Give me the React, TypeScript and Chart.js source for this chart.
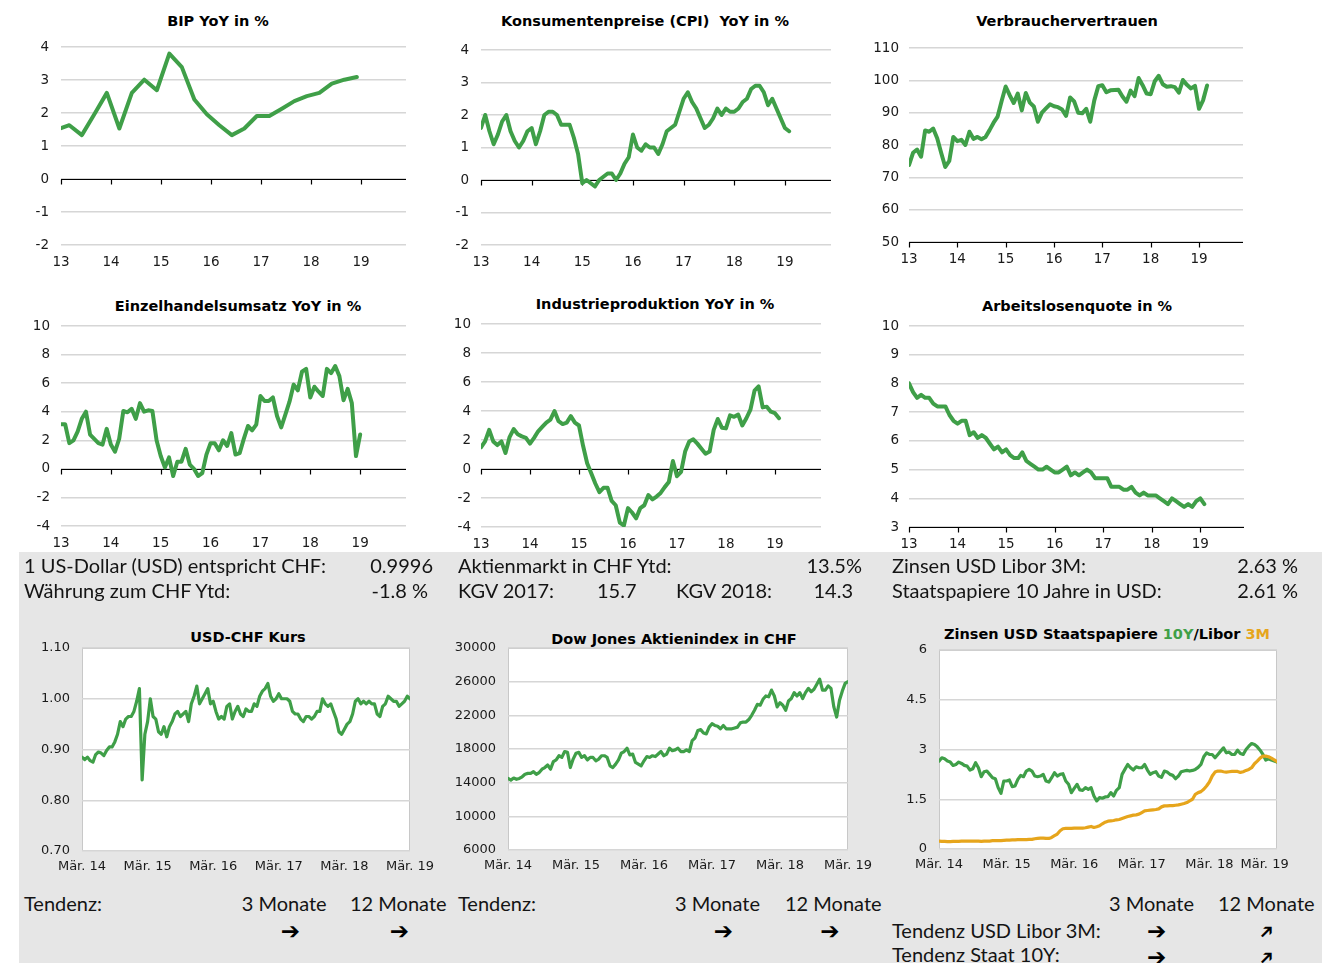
import React, { useEffect, useRef } from "react";
import { Chart, registerables } from "chart.js";

Chart.register(...registerables);

// ---------------- colours & fonts ----------------
const GREEN = "#3f9f48";
const ORANGE = "#e6a51c";
const GRID = "#d6d6d6";
const AXIS_FONT = "'DejaVu Sans', 'Liberation Sans', sans-serif";
const INFO_FONT = "Lato, 'Open Sans', sans-serif";

// ---------------- data: top charts (x = calendar year) ----------------
const YEAR_TICKS = [2013, 2014, 2015, 2016, 2017, 2018, 2019];

// BIP YoY in %, quarterly, first point Dec 2012
const BIP_VALUES = [1.5, 1.63, 1.33, 1.96, 2.61, 1.53, 2.61, 3.01, 2.69, 3.8, 3.39, 2.41, 1.96, 1.63, 1.33, 1.53, 1.91, 1.91, 2.13, 2.36, 2.51, 2.61, 2.89, 3.01, 3.09];

// CPI YoY in %, monthly from Jan 2013
const CPI_VALUES = [
  1.6, 2.0, 1.5, 1.1, 1.4, 1.8, 2.0, 1.5, 1.2, 1.0, 1.2, 1.5,
  1.6, 1.1, 1.5, 2.0, 2.1, 2.1, 2.0, 1.7, 1.7, 1.7, 1.3, 0.8,
  -0.1, 0.0, -0.1, -0.2, 0.0, 0.1, 0.2, 0.2, 0.0, 0.2, 0.5, 0.7,
  1.4, 1.0, 0.9, 1.1, 1.0, 1.0, 0.8, 1.1, 1.5, 1.6, 1.7, 2.1,
  2.5, 2.7, 2.4, 2.2, 1.9, 1.6, 1.7, 1.9, 2.2, 2.0, 2.2, 2.1,
  2.1, 2.2, 2.4, 2.5, 2.8, 2.9, 2.9, 2.7, 2.3, 2.5, 2.2, 1.9,
  1.6, 1.5,
];

// Verbrauchervertrauen, monthly from Jan 2013
const CONF_VALUES = [
  73.8, 77.6, 78.6, 76.4, 84.5, 84.1, 85.1, 82.1, 77.5, 73.2, 75.1, 82.5,
  81.2, 81.6, 80.0, 84.1, 81.9, 82.5, 81.8, 82.5, 84.6, 86.9, 88.8, 93.6,
  98.1, 95.4, 93.0, 95.9, 90.7, 96.1, 93.1, 91.9, 87.2, 90.0, 91.3, 92.6,
  92.0, 91.7, 91.0, 89.0, 94.7, 93.5, 90.0, 89.8, 91.2, 87.2, 93.8, 98.2,
  98.5, 96.3, 96.9, 97.0, 97.1, 95.0, 93.4, 96.8, 95.1, 100.7, 98.5, 95.9,
  95.7, 99.7, 101.4, 98.8, 98.0, 98.2, 97.9, 96.2, 100.1, 98.6, 97.5, 98.3,
  91.2, 93.8, 98.4,
];

// Einzelhandelsumsatz YoY in %, monthly from Jan 2013
const RETAIL_VALUES = [
  3.12, 3.12, 1.8, 2.0, 2.6, 3.5, 4.0, 2.4, 2.1, 1.8, 1.7, 2.8,
  1.7, 1.2, 2.1, 4.05, 3.96, 4.2, 3.5, 4.6, 4.0, 4.1, 4.05, 2.0,
  0.9, 0.1, 0.8, -0.5, 0.5, 0.5, 1.4, 0.3, 0.0, -0.5, -0.3, 1.0,
  1.8, 1.8, 1.3, 2.0, 1.6, 2.5, 1.0, 1.1, 2.1, 3.0, 2.7, 3.1,
  5.1, 4.75, 4.75, 5.0, 3.7, 2.9, 3.8, 4.7, 5.9, 5.5, 6.8, 7.0,
  5.0, 5.75, 5.4, 5.1, 7.0, 6.7, 7.2, 6.5, 4.8, 5.6, 4.6, 0.9,
  2.4,
];

// Industrieproduktion YoY in %, monthly from Jan 2013
const INDPROD_VALUES = [
  1.5, 1.9, 2.7, 1.9, 1.65, 1.9, 1.1, 2.2, 2.75, 2.4, 2.25, 2.15,
  1.75, 2.15, 2.6, 2.9, 3.2, 3.4, 4.0, 3.3, 3.1, 3.2, 3.65, 3.2,
  3.0, 1.6, 0.4, -0.3, -1.0, -1.6, -1.3, -1.3, -2.2, -2.5, -3.7, -3.9,
  -2.7, -3.0, -3.4, -2.7, -2.5, -1.8, -2.1, -1.9, -1.65, -1.25, -0.9, 0.55,
  -0.5, -0.2, 1.2, 1.9, 2.05, 1.75, 1.4, 1.05, 1.2, 2.7, 3.45, 2.85,
  2.8, 3.7, 3.6, 3.75, 3.0, 3.5, 4.1, 5.4, 5.7, 4.25, 4.3, 3.95,
  3.85, 3.5,
];

// Arbeitslosenquote in %, monthly from Jan 2013
const UNEMP_VALUES = [
  8.0, 7.7, 7.5, 7.6, 7.5, 7.5, 7.3, 7.2, 7.2, 7.2, 6.9, 6.7,
  6.6, 6.7, 6.7, 6.2, 6.3, 6.1, 6.2, 6.1, 5.9, 5.7, 5.8, 5.6,
  5.7, 5.5, 5.4, 5.4, 5.6, 5.3, 5.2, 5.1, 5.0, 5.0, 5.1, 5.0,
  4.9, 4.9, 5.0, 5.1, 4.8, 4.9, 4.8, 4.9, 5.0, 4.9, 4.7, 4.7,
  4.7, 4.7, 4.4, 4.4, 4.4, 4.3, 4.3, 4.4, 4.2, 4.1, 4.2, 4.1,
  4.1, 4.1, 4.0, 3.9, 3.8, 4.0, 3.9, 3.8, 3.7, 3.8, 3.7, 3.9,
  4.0, 3.8,
];

// ---------------- data: bottom charts (half-monthly from Mar 2014) ----------------
const MAR_TICKS = [2014, 2015, 2016, 2017, 2018, 2019].map((y) => y + 2 / 12);

const USDCHF_VALUES = [
  0.885, 0.88, 0.885, 0.878, 0.875, 0.89, 0.895, 0.893, 0.888, 0.898, 0.905, 0.905, 0.915, 0.93, 0.955, 0.945, 0.96, 0.965, 0.965, 0.975,
  0.995, 1.02, 0.84, 0.93, 0.955, 1.0, 0.965, 0.96, 0.935, 0.93, 0.945, 0.925, 0.945, 0.955, 0.97, 0.975, 0.965, 0.97, 0.975, 0.955, 0.99, 1.005, 1.025, 0.99,
  1.0, 1.01, 1.02, 0.99, 0.995, 0.975, 0.96, 0.965, 0.96, 0.985, 0.99, 0.96, 0.975, 0.985, 0.97, 0.965, 0.98, 0.975, 0.975, 0.99, 0.985, 1.005, 1.015, 1.02,
  1.03, 1.005, 0.995, 1.0, 1.01, 1.0, 1.0, 1.0, 0.995, 0.975, 0.97, 0.97, 0.96, 0.955, 0.965, 0.965, 0.96, 0.965, 0.975, 0.975, 1.0, 0.99, 0.985, 0.99,
  0.975, 0.96, 0.935, 0.93, 0.94, 0.95, 0.955, 0.97, 0.995, 1.0, 0.99, 0.995, 0.99, 0.995, 0.99, 0.99, 0.97, 0.965, 0.985, 0.99, 1.005, 1.0, 0.995, 0.995,
  0.985, 0.99, 0.995, 1.005, 1.0,
];

const DOW_CHF_VALUES = [
  14500, 14300, 14550, 14400, 14500, 14700, 15000, 15100, 15100, 15300, 15000, 15200, 15600, 15800, 16100, 15600, 16500, 16700, 17200, 17000,
  17700, 17600, 15800, 16800, 17500, 17600, 17000, 17200, 16700, 17000, 17000, 16600, 16800, 17200, 17200, 17000, 16000, 15800, 16200, 16700, 17500, 17700, 18100, 17300,
  17400, 16400, 16200, 16000, 16600, 17100, 17000, 17200, 17100, 17400, 17700, 17200, 17400, 18100, 17800, 17900, 18100, 17700, 17700, 17900, 17700, 19000, 19300, 20200,
  20300, 19900, 19800, 20600, 21000, 20800, 20700, 20400, 20800, 20400, 20400, 20400, 20500, 20600, 21100, 21200, 21200, 21500, 22000, 22600, 23300, 23200, 23900, 24300,
  24200, 25000, 24300, 23000, 23500, 23200, 22600, 23700, 24000, 24700, 24300, 24700, 24000, 24700, 25200, 24800, 25100, 25700, 26300, 25000, 25000, 25500, 25200, 23000,
  21800, 23800, 24900, 25800, 26000,
];

const TREASURY_10Y_VALUES = [
  2.65, 2.75, 2.72, 2.65, 2.62, 2.52, 2.55, 2.62, 2.58, 2.52, 2.5, 2.38, 2.42, 2.6, 2.45, 2.18, 2.33, 2.35, 2.25, 2.15,
  2.12, 1.85, 1.68, 2.05, 2.05, 2.08, 1.88, 1.9, 2.1, 2.22, 2.18, 2.35, 2.4, 2.35, 2.2, 2.18, 2.2, 2.25, 2.05, 2.02, 2.15, 2.3, 2.2, 2.25,
  2.27, 2.05, 1.95, 1.7, 1.83, 1.95, 1.78, 1.77, 1.85, 1.8, 1.85, 1.6, 1.45, 1.55, 1.53, 1.57, 1.58, 1.7, 1.6, 1.77, 1.85, 2.25, 2.4, 2.55,
  2.45, 2.38, 2.48, 2.45, 2.45, 2.55, 2.38, 2.25, 2.3, 2.33, 2.2, 2.16, 2.35, 2.32, 2.25, 2.22, 2.12, 2.2, 2.33, 2.35, 2.37, 2.35, 2.37, 2.4,
  2.46, 2.55, 2.78, 2.9, 2.85, 2.85, 2.75, 2.85, 2.95, 3.05, 2.9, 2.92, 2.85, 2.85, 2.98, 2.88, 2.85, 3.0, 3.1, 3.18, 3.15, 3.08, 2.98, 2.85,
  2.68, 2.72, 2.68, 2.65, 2.62,
];

const LIBOR_3M_VALUES = [
  0.235, 0.23, 0.23, 0.225, 0.225, 0.23, 0.23, 0.23, 0.235, 0.235, 0.24, 0.235, 0.235, 0.235, 0.235, 0.23, 0.235, 0.235, 0.24, 0.25,
  0.255, 0.255, 0.255, 0.26, 0.265, 0.27, 0.275, 0.275, 0.28, 0.28, 0.285, 0.285, 0.29, 0.29, 0.31, 0.32, 0.33, 0.33, 0.32, 0.32, 0.35, 0.4, 0.45, 0.55,
  0.61, 0.62, 0.62, 0.62, 0.63, 0.63, 0.63, 0.63, 0.64, 0.66, 0.68, 0.65, 0.67, 0.7, 0.76, 0.81, 0.84, 0.85, 0.86, 0.88, 0.89, 0.92, 0.95, 0.98,
  1.0, 1.02, 1.03, 1.05, 1.1, 1.15, 1.16, 1.17, 1.18, 1.19, 1.21, 1.27, 1.3, 1.3, 1.31, 1.31, 1.32, 1.33, 1.35, 1.37, 1.4, 1.45, 1.5, 1.65,
  1.7, 1.73, 1.8, 1.9, 2.02, 2.2, 2.32, 2.35, 2.35, 2.33, 2.32, 2.33, 2.34, 2.34, 2.34, 2.31, 2.33, 2.37, 2.4, 2.45, 2.57, 2.65, 2.74, 2.8,
  2.8, 2.78, 2.74, 2.69, 2.63,
];

// calendar positions (decimal years) of a regular date series
function dates(year: number, month: number, n: number, stepMonths: number): number[] {
  const out: number[] = [];
  for (let i = 0; i < n; i++) out.push(year + (month - 1) / 12 + (i * stepMonths) / 12);
  return out;
}

// ---------------- chart component ----------------
const ML = 70, MT = 30, MR = 50, MB = 36;

type Area = { l: number; t: number; r: number; b: number };
type Series = { x: number[]; y: number[]; color: string; width: number };
type Cfg = {
  area: Area;
  series: Series[];
  xMin: number; xMax: number; xTicks: number[]; xFmt: (v: number, i: number) => string;
  yMin: number; yMax: number; yTicks: number[]; yFmt: (v: number) => string;
  base?: number;
  panel?: boolean;
  yPad: number; xPad: number;
  fontSize: number;
};

function MiniChart({ cfg }: { cfg: Cfg }) {
  const ref = useRef<HTMLCanvasElement>(null);
  const { area } = cfg;
  const w = area.r - area.l + ML + MR;
  const h = area.b - area.t + MT + MB;

  useEffect(() => {
    const panelPlugin = {
      id: "panel",
      beforeDraw(chart: any) {
        if (!cfg.panel) return;
        const { ctx, chartArea: ca } = chart;
        ctx.save();
        ctx.fillStyle = "#ffffff";
        ctx.fillRect(ca.left, ca.top, ca.right - ca.left, ca.bottom - ca.top);
        ctx.strokeStyle = "#c8c8c8";
        ctx.lineWidth = 1;
        ctx.strokeRect(ca.left + 0.5, ca.top + 0.5, ca.right - ca.left - 1, ca.bottom - ca.top - 1);
        ctx.restore();
      },
    };
    const basePlugin = {
      id: "baseAxis",
      beforeDatasetsDraw(chart: any) {
        if (cfg.base === undefined) return;
        const { ctx, chartArea: ca } = chart;
        const xs = chart.scales.x, ys = chart.scales.y;
        const py = Math.round(ys.getPixelForValue(cfg.base)) + 0.5;
        ctx.save();
        ctx.strokeStyle = "#000";
        ctx.lineWidth = 1.2;
        ctx.beginPath();
        ctx.moveTo(ca.left, py);
        ctx.lineTo(ca.right, py);
        for (const t of cfg.xTicks) {
          const px = Math.round(xs.getPixelForValue(t)) + 0.5;
          ctx.moveTo(px, py);
          ctx.lineTo(px, py + 5);
        }
        ctx.stroke();
        ctx.restore();
      },
    };

    const chart = new Chart(ref.current as HTMLCanvasElement, {
      type: "line",
      data: {
        datasets: cfg.series.map((s) => ({
          data: s.x.map((x, i) => ({ x, y: s.y[i] })),
          borderColor: s.color,
          borderWidth: s.width,
          pointRadius: 0,
          fill: false,
          tension: 0,
          borderJoinStyle: "round" as const,
          borderCapStyle: "round" as const,
        })),
      },
      options: {
        responsive: false,
        maintainAspectRatio: false,
        animation: false,
        events: [],
        layout: { padding: { left: 0, top: MT, right: MR, bottom: 0 } },
        plugins: { legend: { display: false }, tooltip: { enabled: false }, title: { display: false } },
        scales: {
          x: {
            type: "linear",
            min: cfg.xMin,
            max: cfg.xMax,
            afterFit: (s: any) => { s.height = MB; },
            afterBuildTicks: (s: any) => { s.ticks = cfg.xTicks.map((v) => ({ value: v })); },
            grid: { display: false, drawTicks: false },
            border: { display: false },
            ticks: {
              autoSkip: false,
              maxRotation: 0,
              padding: cfg.xPad,
              color: "#1a1a1a",
              font: { family: AXIS_FONT, size: cfg.fontSize },
              callback: (v: any, i: number) => cfg.xFmt(Number(v), i),
            },
          },
          y: {
            min: cfg.yMin,
            max: cfg.yMax,
            afterFit: (s: any) => { s.width = ML; },
            afterBuildTicks: (s: any) => { s.ticks = cfg.yTicks.map((v) => ({ value: v })); },
            grid: { color: GRID, lineWidth: 1.4, drawTicks: false },
            border: { display: false },
            ticks: {
              padding: cfg.yPad,
              color: "#1a1a1a",
              font: { family: AXIS_FONT, size: cfg.fontSize },
              callback: (v: any) => cfg.yFmt(Number(v)),
            },
          },
        },
      } as any,
      plugins: [panelPlugin, basePlugin],
    });
    return () => chart.destroy();
  }, []);

  return (
    <canvas
      ref={ref}
      width={w}
      height={h}
      style={{ position: "absolute", left: area.l - ML, top: area.t - MT, width: w, height: h }}
    />
  );
}

// ---------------- chart configs ----------------
const yearFmt = (v: number) => String(Math.round(v) % 100);
const marFmt = (v: number) => "Mär. " + String(Math.round(v - 2 / 12) % 100);
// last label of the rate chart sits a little inside the frame, as in the original
const marFmtInset = (v: number, i: number) => marFmt(v) + (i === MAR_TICKS.length - 1 ? "\u00a0\u00a0\u00a0\u00a0\u00a0\u00a0" : "");
const range = (a: number, b: number, s: number) => {
  const o: number[] = [];
  for (let v = a; v <= b + 1e-9; v += s) o.push(Math.round(v * 1000) / 1000);
  return o;
};

const topCommon = { xMin: 2013, xTicks: YEAR_TICKS, xFmt: yearFmt, fontSize: 13.5, xPad: 9 };
const LW_TOP = 4;
const LW_BOTTOM = 3.2;

const CHARTS: Cfg[] = [
  {
    ...topCommon, area: { l: 61, t: 47, r: 406, b: 245 }, xMax: 2019.9,
    series: [{ x: dates(2012, 12, BIP_VALUES.length, 3), y: BIP_VALUES, color: GREEN, width: LW_TOP }],
    yMin: -2, yMax: 4, yTicks: range(-2, 4, 1), yFmt: (v) => String(v), base: 0, yPad: 12,
  },
  {
    ...topCommon, area: { l: 481, t: 50, r: 831, b: 245 }, xMax: 2019.91,
    series: [{ x: dates(2013, 1, CPI_VALUES.length, 1), y: CPI_VALUES, color: GREEN, width: LW_TOP }],
    yMin: -2, yMax: 4, yTicks: range(-2, 4, 1), yFmt: (v) => String(v), base: 0, yPad: 12,
  },
  {
    ...topCommon, area: { l: 909, t: 48, r: 1243, b: 242 }, xMax: 2019.91,
    series: [{ x: dates(2013, 1, CONF_VALUES.length, 1), y: CONF_VALUES, color: GREEN, width: LW_TOP }],
    yMin: 50, yMax: 110, yTicks: range(50, 110, 10), yFmt: (v) => String(v), base: 50, yPad: 10,
  },
  {
    ...topCommon, area: { l: 61, t: 326, r: 406, b: 526 }, xMax: 2019.92,
    series: [{ x: dates(2013, 1, RETAIL_VALUES.length, 1), y: RETAIL_VALUES, color: GREEN, width: LW_TOP }],
    yMin: -4, yMax: 10, yTicks: range(-4, 10, 2), yFmt: (v) => String(v), base: 0, yPad: 11,
  },
  {
    ...topCommon, area: { l: 481, t: 324, r: 821, b: 527 }, xMax: 2019.94,
    series: [{ x: dates(2013, 1, INDPROD_VALUES.length, 1), y: INDPROD_VALUES, color: GREEN, width: LW_TOP }],
    yMin: -4, yMax: 10, yTicks: range(-4, 10, 2), yFmt: (v) => String(v), base: 0, yPad: 10,
  },
  {
    ...topCommon, area: { l: 909, t: 326, r: 1244, b: 527 }, xMax: 2019.9,
    series: [{ x: dates(2013, 1, UNEMP_VALUES.length, 1), y: UNEMP_VALUES, color: GREEN, width: LW_TOP }],
    yMin: 3, yMax: 10, yTicks: range(3, 10, 1), yFmt: (v) => String(v), base: 3, yPad: 10,
  },
  {
    area: { l: 82, t: 648, r: 410, b: 851 }, xMin: 2014 + 2 / 12, xMax: 2019 + 2 / 12, xTicks: MAR_TICKS, xFmt: marFmt,
    series: [{ x: dates(2014, 3, USDCHF_VALUES.length, 0.5), y: USDCHF_VALUES, color: GREEN, width: LW_BOTTOM }],
    yMin: 0.7, yMax: 1.1, yTicks: range(0.7, 1.1, 0.1), yFmt: (v) => v.toFixed(2), panel: true, yPad: 12, xPad: 8, fontSize: 13,
  },
  {
    area: { l: 508, t: 648, r: 848, b: 850 }, xMin: 2014 + 2 / 12, xMax: 2019 + 2 / 12, xTicks: MAR_TICKS, xFmt: marFmt,
    series: [{ x: dates(2014, 3, DOW_CHF_VALUES.length, 0.5), y: DOW_CHF_VALUES, color: GREEN, width: LW_BOTTOM }],
    yMin: 6000, yMax: 30000, yTicks: range(6000, 30000, 4000), yFmt: (v) => String(v), panel: true, yPad: 12, xPad: 8, fontSize: 13,
  },
  {
    area: { l: 939, t: 650, r: 1277, b: 849 }, xMin: 2014 + 2 / 12, xMax: 2019 + 2 / 12, xTicks: MAR_TICKS, xFmt: marFmtInset,
    series: [
      { x: dates(2014, 3, LIBOR_3M_VALUES.length, 0.5), y: LIBOR_3M_VALUES, color: ORANGE, width: LW_BOTTOM },
      { x: dates(2014, 3, TREASURY_10Y_VALUES.length, 0.5), y: TREASURY_10Y_VALUES, color: GREEN, width: LW_BOTTOM },
    ],
    yMin: 0, yMax: 6, yTicks: range(0, 6, 1.5), yFmt: (v) => String(v), panel: true, yPad: 12, xPad: 8, fontSize: 13,
  },
];

// ---------------- text helpers ----------------
function Title({ cx, cy, children }: { cx: number; cy: number; children: React.ReactNode }) {
  const size = 14.5;
  return (
    <div
      style={{
        position: "absolute", left: cx - 300, width: 600, top: cy - 0.48 * size, textAlign: "center",
        font: `bold ${size}px ${AXIS_FONT}`, lineHeight: `${size}px`, whiteSpace: "pre", color: "#000",
      }}
    >
      {children}
    </div>
  );
}

const INFO_SIZE = 20;
function Info({ x, right, base, children, size = INFO_SIZE, family = INFO_FONT }: { x?: number; right?: number; base: number; children: React.ReactNode; size?: number; family?: string }) {
  const style: React.CSSProperties = {
    position: "absolute", top: base - 0.887 * size, font: `${size}px ${family}`, lineHeight: `${size}px`,
    whiteSpace: "pre", color: "#141414",
  };
  if (x !== undefined) style.left = x;
  if (right !== undefined) style.right = 1326 - right;
  return <div style={style}>{children}</div>;
}

// heavy arrow glyph; "up" turns it to point north-east
function Arrow({ cx, cy, up }: { cx: number; cy: number; up?: boolean }) {
  return (
    <div
      style={{
        position: "absolute", left: cx - 20, width: 40, top: cy - 12, height: 24, textAlign: "center",
        font: `bold ${up ? 19 : 23}px 'DejaVu Sans', sans-serif`, lineHeight: "24px", color: "#000",
      }}
    >
      <span style={{ display: "inline-block", transform: up ? "rotate(-45deg)" : "none" }}>➔</span>
    </div>
  );
}

export default function App() {
  return (
    <div style={{ position: "absolute", left: 0, top: 0, width: 1326, height: 963, overflow: "hidden", background: "#fff" }}>
      <div style={{ position: "absolute", left: 19, top: 552, width: 1303, height: 420, background: "#e6e6e6" }} />

      <Title cx={218} cy={21}>BIP YoY in %</Title>
      <Title cx={645} cy={21}>Konsumentenpreise (CPI)  YoY in %</Title>
      <Title cx={1067} cy={21}>Verbrauchervertrauen</Title>
      <Title cx={238} cy={306}>Einzelhandelsumsatz YoY in %</Title>
      <Title cx={655} cy={304}>Industrieproduktion YoY in %</Title>
      <Title cx={1077} cy={306}>Arbeitslosenquote in %</Title>
      <Title cx={248} cy={637}>USD-CHF Kurs</Title>
      <Title cx={674} cy={639}>Dow Jones Aktienindex in CHF</Title>
      <Title cx={1107} cy={634}>
        Zinsen USD Staatspapiere <span style={{ color: GREEN }}>10Y</span>/Libor <span style={{ color: ORANGE }}>3M</span>
      </Title>

      {CHARTS.map((c, i) => (
        <MiniChart key={i} cfg={c} />
      ))}

      {/* info block */}
      <Info x={24} base={573}>1 US-Dollar (USD) entspricht CHF:</Info>
      <Info right={433} base={573}>0.9996</Info>
      <Info x={24} base={597.5}>Währung zum CHF Ytd:</Info>
      <Info right={428} base={597.5}>-1.8 %</Info>

      <Info x={458} base={573}>Aktienmarkt in CHF Ytd:</Info>
      <Info right={862} base={573}>13.5%</Info>
      <Info x={458} base={597.5}>KGV 2017:</Info>
      <Info x={597} base={597.5}>15.7</Info>
      <Info x={676} base={597.5}>KGV 2018:</Info>
      <Info right={853} base={597.5}>14.3</Info>

      <Info x={892} base={573}>Zinsen USD Libor 3M:</Info>
      <Info right={1298} base={573}>2.63 %</Info>
      <Info x={892} base={597.5}>Staatspapiere 10 Jahre in USD:</Info>
      <Info right={1298} base={597.5}>2.61 %</Info>

      {/* Tendenz */}
      <Info x={24} base={910.7}>Tendenz:</Info>
      <Info x={241.7} base={910.7}>3 Monate</Info>
      <Info x={350} base={910.7}>12 Monate</Info>
      <Arrow cx={290.5} cy={931} />
      <Arrow cx={399.5} cy={931} />

      <Info x={458} base={910.7}>Tendenz:</Info>
      <Info x={675} base={910.7}>3 Monate</Info>
      <Info x={785} base={910.7}>12 Monate</Info>
      <Arrow cx={723.3} cy={931} />
      <Arrow cx={830} cy={931} />

      <Info x={1109} base={910.7}>3 Monate</Info>
      <Info x={1218} base={910.7}>12 Monate</Info>
      <Info x={892} base={937.3}>Tendenz USD Libor 3M:</Info>
      <Info x={892} base={961.7}>Tendenz Staat 10Y:</Info>
      <Arrow cx={1156.7} cy={931} />
      <Arrow cx={1266} cy={931} up />
      <Arrow cx={1156.7} cy={956.7} />
      <Arrow cx={1266} cy={956.7} up />
    </div>
  );
}
